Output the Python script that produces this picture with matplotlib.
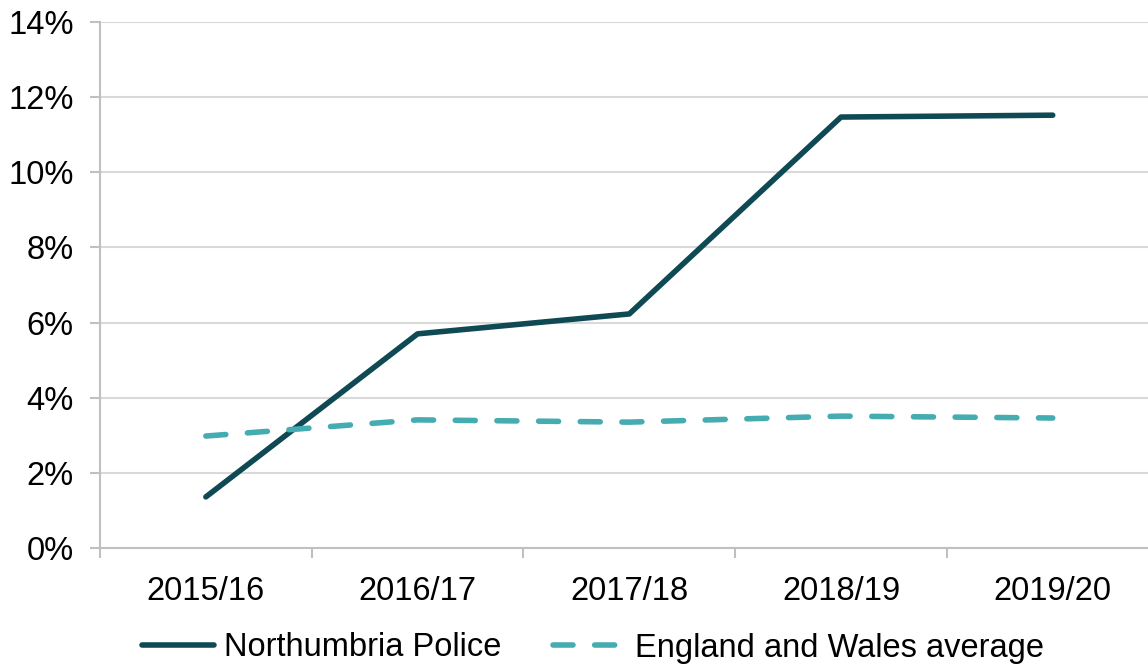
import numpy as np
import matplotlib
matplotlib.use("Agg")
import matplotlib.pyplot as plt
from matplotlib.ticker import FuncFormatter

years = ["2015/16", "2016/17", "2017/18", "2018/19", "2019/20"]
northumbria = [1.36, 5.70, 6.23, 11.47, 11.52]
ew_average = [2.98, 3.41, 3.35, 3.51, 3.46]

plt.rcParams['font.family'] = ['Liberation Sans', 'DejaVu Sans']

fig = plt.figure(figsize=(11.48, 6.68), dpi=100)
ax = fig.add_axes([100/1148, 1 - 548/668, 1048/1148, 526/668])

x = np.arange(len(years))
ax.plot(x, northumbria, color="#0f4a54", lw=4, solid_capstyle="round",
        label="Northumbria Police")
ax.plot(x, ew_average, color="#45acb1", lw=4, dashes=(3.6, 3.9),
        dash_capstyle="round", label="England and Wales average")

ax.set_xlim(-0.5, 4.45)
ax.set_ylim(0, 14)
ax.set_yticks(np.arange(0, 15, 2))
ax.yaxis.set_major_formatter(FuncFormatter(lambda v, p: f"{v:.0f}%"))
ax.set_xticks(x)
ax.set_xticklabels(years)
ax.set_xticks(np.arange(-0.5, 4.5, 1), minor=True)

ax.grid(axis="y", color="#d9d9d9", lw=1.5)
ax.set_axisbelow(True)
for s in ["top", "right"]:
    ax.spines[s].set_visible(False)
for s in ["left", "bottom"]:
    ax.spines[s].set_color("#c0c0c0")
    ax.spines[s].set_linewidth(1.5)

ax.tick_params(axis="y", length=7, width=1.5, color="#c0c0c0", labelsize=23.5, pad=12)
ax.tick_params(axis="x", which="major", length=0, labelsize=23.5, pad=20)
ax.tick_params(axis="x", which="minor", length=7, width=1.5, color="#c0c0c0")

fig.legend(loc="center", bbox_to_anchor=(593/1148, 1 - 648/668), ncol=2,
           frameon=False, fontsize=23.5, handlelength=2.2, handletextpad=0.3,
           columnspacing=1.6)

fig.savefig("out.png", dpi=100)
